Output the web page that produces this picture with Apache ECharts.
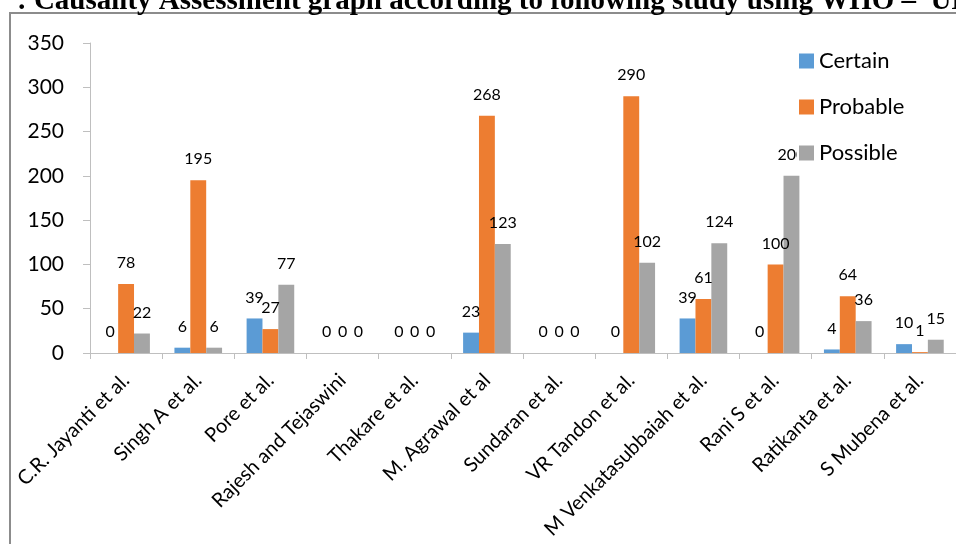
<!DOCTYPE html>
<html>
<head>
<meta charset="utf-8">
<script src="https://cdn.jsdelivr.net/npm/echarts@6/dist/echarts.min.js"></script>
<style>
html,body{margin:0;padding:0;background:#fff;}
#chart{width:956px;height:544px;}
</style>
</head>
<body>
<div id="chart"></div>
<script>
const categories = ["C.R. Jayanti et al.", "Singh A et al.", "Pore et al.", "Rajesh and Tejaswini", "Thakare et al.", "M. Agrawal et al", "Sundaran et al.", "VR Tandon et al.", "M Venkatasubbaiah et al.", "Rani S et al.", "Ratikanta et al.", "S Mubena et al."];
const certain  = [0, 6, 39, 0, 0, 23, 0, 0, 39, 0, 4, 10];
const probable = [78, 195, 27, 0, 0, 268, 0, 290, 61, 100, 64, 1];
const possible = [22, 6, 77, 0, 0, 123, 0, 102, 124, 200, 36, 15];
const seriesNames = ["Certain", "Probable", "Possible"];
const titleText = ": Causality Assessment graph according to following study using WHO \u2013  UMC";

const chart = echarts.init(document.getElementById('chart'));
const FONT = 'Lato, "Open Sans", sans-serif';
const labelCfg = {show: true, position: 'top', distance: 13, color: '#000', fontSize: 16, fontFamily: FONT};
function mk(name, data, color) {
  return {name, type: 'bar', data, barGap: '0%', barCategoryGap: '34%',
    itemStyle: {color}, label: labelCfg};
}
chart.setOption({
  backgroundColor: '#fff',
  animation: false,
  graphic: [
    {type: 'rect', z: -1, shape: {x: 10, y: 13, width: 1000, height: 600},
     style: {fill: 'none', stroke: '#8c8c8c', lineWidth: 2}},
    {type: 'text', z: 10, style: {text: titleText, x: 17, y: 16, textVerticalAlign: 'bottom',
      font: 'bold 29px "Liberation Serif", serif', fill: '#000'}}
  ],
  grid: {left: 90, right: -6, top: 43, bottom: 191, containLabel: false},
  legend: {orient: 'vertical', left: 797, top: 46, padding: [2, 6, 2, 2], itemGap: 20,
    itemWidth: 15, itemHeight: 15, backgroundColor: '#fff', icon: 'rect',
    textStyle: {fontSize: 22, fontFamily: FONT, color: '#000', lineHeight: 26},
    data: seriesNames},
  xAxis: {type: 'category', data: categories,
    axisLine: {lineStyle: {color: '#bfbfbf', width: 1}},
    axisTick: {show: true, length: 6, lineStyle: {color: '#bfbfbf'}},
    axisLabel: {rotate: 45, interval: 0, margin: 24, fontSize: 20, fontFamily: FONT, color: '#000'}},
  yAxis: {type: 'value', min: 0, max: 350, interval: 50,
    splitLine: {show: false},
    axisLine: {show: true, lineStyle: {color: '#bfbfbf'}},
    axisTick: {show: true, length: 7, lineStyle: {color: '#bfbfbf'}},
    axisLabel: {margin: 26, fontSize: 21, fontFamily: FONT, color: '#000'}},
  series: [
    mk(seriesNames[0], certain, '#5B9BD5'),
    mk(seriesNames[1], probable, '#ED7D31'),
    mk(seriesNames[2], possible, '#A5A5A5')
  ]
});
</script>
</body>
</html>
